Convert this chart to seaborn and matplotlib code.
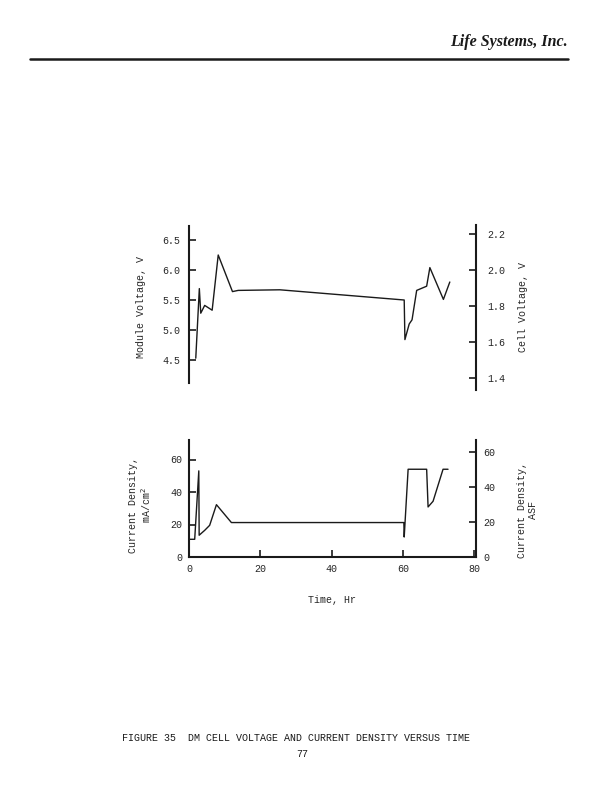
import numpy as np
import pandas as pd
import seaborn as sns
from matplotlib import pyplot as plt
from matplotlib.lines import Line2D

# %% Data

# module voltage trace (top panel)
VoltTime = [1.9, 2.9, 3.3, 4.4, 6.5, 8.2, 12.2, 13.8, 25.5, 60.4, 60.6,
            61.8, 62.6, 63.9, 66.7, 67.6, 71.4, 73.2]
ModuleVolt = [4.53, 5.69, 5.28, 5.41, 5.33, 6.25, 5.64, 5.66, 5.67, 5.50, 4.84,
              5.10, 5.17, 5.66, 5.73, 6.04, 5.51, 5.80]

# current density trace (bottom panel), mA/cm2
CurrTime = [0.0, 1.6, 2.75, 2.85, 4.4, 5.8, 7.7, 11.9, 60.3, 60.4, 61.5,
            66.7, 67.1, 68.5, 71.3, 72.7]
CurrDens = [10.9, 10.9, 53.0, 13.4, 16.4, 19.5, 32.2, 21.2, 21.2, 12.3, 54.0,
            54.0, 30.8, 34.3, 54.0, 54.0]

NCells = 3            # module voltage / cell voltage
ASFtoMA = 1.076       # 1 A/ft2 = 1.076 mA/cm2

dfVolt = pd.DataFrame({'Time': VoltTime, 'Volt': ModuleVolt})
dfCurr = pd.DataFrame({'Time': CurrTime, 'Curr': CurrDens})

# %% Figure setup

sns.set_style('white')
plt.rcParams['font.family'] = ['Liberation Mono', 'DejaVu Sans Mono']
plt.rcParams['font.size'] = 7.2
Ink = '#1a1a1a'

fig = plt.figure(figsize=(6.07, 7.91), dpi=100)
W, H = 607, 791


def AxRect(x0, y0, x1, y1):
    return [x0 / W, 1 - y1 / H, (x1 - x0) / W, (y1 - y0) / H]


XMax = 287 / 3.563

# %% Top panel: voltage

ax = fig.add_axes(AxRect(189, 225, 476, 390))
sns.lineplot(data=dfVolt, x='Time', y='Volt', ax=ax, sort=False,
             estimator=None, color=Ink, lw=1.0)
ax.set_xlim(0, XMax)
ax.set_ylim(4.0, 6.75)
ax.set_yticks([4.5, 5.0, 5.5, 6.0, 6.5])
ax.set_yticklabels(['4.5', '5.0', '5.5', '6.0', '6.5'])
ax.spines['left'].set_bounds(4.12, 6.73)
for s in ('top', 'bottom', 'right'):
    ax.spines[s].set_visible(False)
ax.spines['left'].set_linewidth(1.5)
ax.spines['left'].set_color(Ink)
ax.set_xticks([])
ax.set_xlabel('')
ax.set_ylabel('Module Voltage, V', labelpad=12)
ax.tick_params(axis='y', direction='in', length=5, width=1.2, pad=6,
               color=Ink, left=True)

ax2 = ax.twinx()
ax2.set_ylim(4.0 / NCells, 6.75 / NCells)
ax2.set_yticks([1.4, 1.6, 1.8, 2.0, 2.2])
ax2.set_yticklabels(['1.4', '1.6', '1.8', '2.0', '2.2'])
for s in ('top', 'bottom', 'left'):
    ax2.spines[s].set_visible(False)
ax2.spines['right'].set_linewidth(1.5)
ax2.spines['right'].set_color(Ink)
ax2.set_ylabel('Cell Voltage, V', labelpad=9)
ax2.tick_params(axis='y', direction='in', length=5, width=1.2, pad=8,
                color=Ink, right=True)

# %% Bottom panel: current density

bx = fig.add_axes(AxRect(189, 440, 476, 557))
sns.lineplot(data=dfCurr, x='Time', y='Curr', ax=bx, sort=False,
             estimator=None, color=Ink, lw=1.0)
bx.set_xlim(0, XMax)
bx.set_ylim(0, 72)
bx.set_yticks([0, 20, 40, 60])
bx.set_xticks([0, 20, 40, 60, 80])
bx.spines['top'].set_visible(False)
bx.spines['right'].set_visible(False)
for s in ('left', 'bottom'):
    bx.spines[s].set_linewidth(1.5)
    bx.spines[s].set_color(Ink)
bx.tick_params(axis='both', direction='in', length=5, width=1.2, pad=5,
               color=Ink, left=True, bottom=True)
bx.set_xlabel('Time, Hr', labelpad=15)
bx.set_ylabel('Current Density,\nmA/cm$^2$', linespacing=1.1)
bx.yaxis.set_label_coords((153 - 189) / 287, (557 - 505) / 117)

bx2 = bx.twinx()
bx2.set_ylim(0, 72 / ASFtoMA)
bx2.set_yticks([0, 20, 40, 60])
for s in ('top', 'bottom', 'left'):
    bx2.spines[s].set_visible(False)
bx2.spines['right'].set_linewidth(1.5)
bx2.spines['right'].set_color(Ink)
bx2.tick_params(axis='y', direction='in', length=5, width=1.2, pad=5,
                color=Ink, right=True)
bx2.set_ylabel('Current Density,\nASF', linespacing=1.1)
bx2.yaxis.set_label_coords((517 - 189) / 287, (557 - 510) / 117)

# %% Page decorations

fig.text(568 / W, 1 - 42 / H, 'Life Systems, Inc.', ha='right', va='center',
         fontsize=11.5, fontstyle='italic', fontweight='bold',
         family=['Liberation Serif', 'DejaVu Serif'], color=Ink)
fig.add_artist(Line2D([30 / W, 568 / W], [1 - 59 / H, 1 - 59 / H],
                      lw=1.8, color=Ink))
fig.text(122 / W, 1 - 738 / H,
         'FIGURE 35  DM CELL VOLTAGE AND CURRENT DENSITY VERSUS TIME',
         ha='left', va='center', fontsize=7.2, color=Ink)
fig.text(302 / W, 1 - 754 / H, '77', ha='center', va='center',
         fontsize=7.2, color=Ink)

fig.savefig('out.png', dpi=100)
